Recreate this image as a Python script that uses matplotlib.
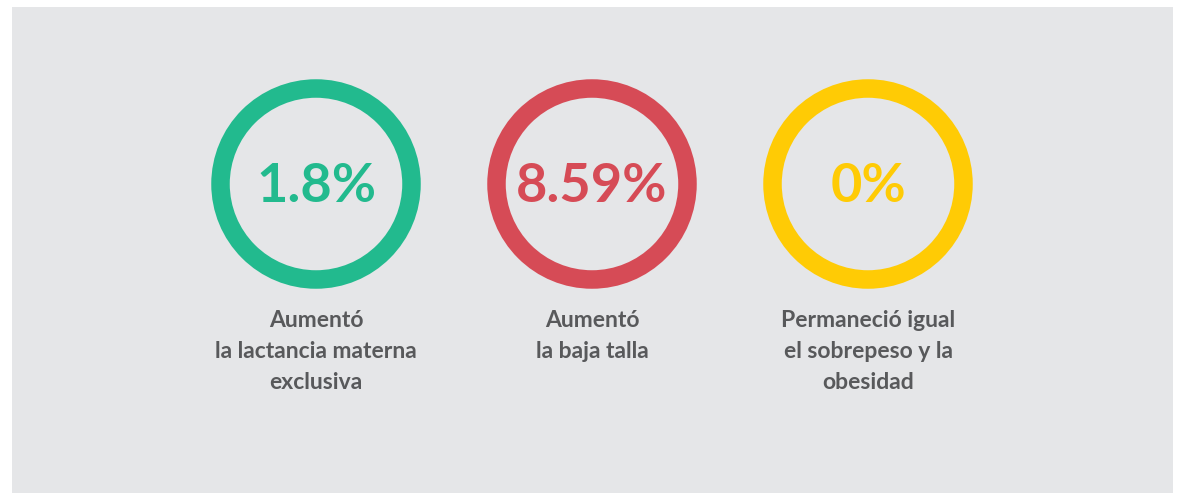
import matplotlib
matplotlib.use("Agg")
import matplotlib.pyplot as plt
from matplotlib.patches import Circle, Rectangle

# values and captions
values = ["1.8%", "8.59%", "0%"]
captions = [
    ["Aumentó", "la lactancia materna", "exclusiva"],
    ["Aumentó", "la baja talla"],
    ["Permaneció igual", "el sobrepeso y la", "obesidad"],
]
colors = ["#22BA8E", "#D64B56", "#FFCB05"]

W, H = 1177, 498
fig = plt.figure(figsize=(W / 100, H / 100), dpi=100)
ax = fig.add_axes([0, 0, 1, 1])
ax.set_xlim(0, W)
ax.set_ylim(H, 0)
ax.set_aspect("equal")
ax.axis("off")

ax.add_patch(Rectangle((12, 7), 1161, 486, facecolor="#E5E6E8", edgecolor="none"))

font = ["Lato", "DejaVu Sans"]
cx0, step, cy = 316, 276, 184
for i, (val, cap, col) in enumerate(zip(values, captions, colors)):
    cx = cx0 + i * step
    ax.add_patch(Circle((cx, cy), 95.5, fill=False, edgecolor=col, linewidth=18.5 * 72 / 100))
    ax.text(cx, cy + 2, val, ha="center", va="center", color=col,
            fontsize=39, fontweight="bold", family=font)
    for k, line in enumerate(cap):
        ax.text(cx, 327 + 31 * k, line, ha="center", va="baseline", color="#58595B",
                fontsize=16.5, fontweight="bold", family=font)

fig.savefig("out.png", dpi=100)
